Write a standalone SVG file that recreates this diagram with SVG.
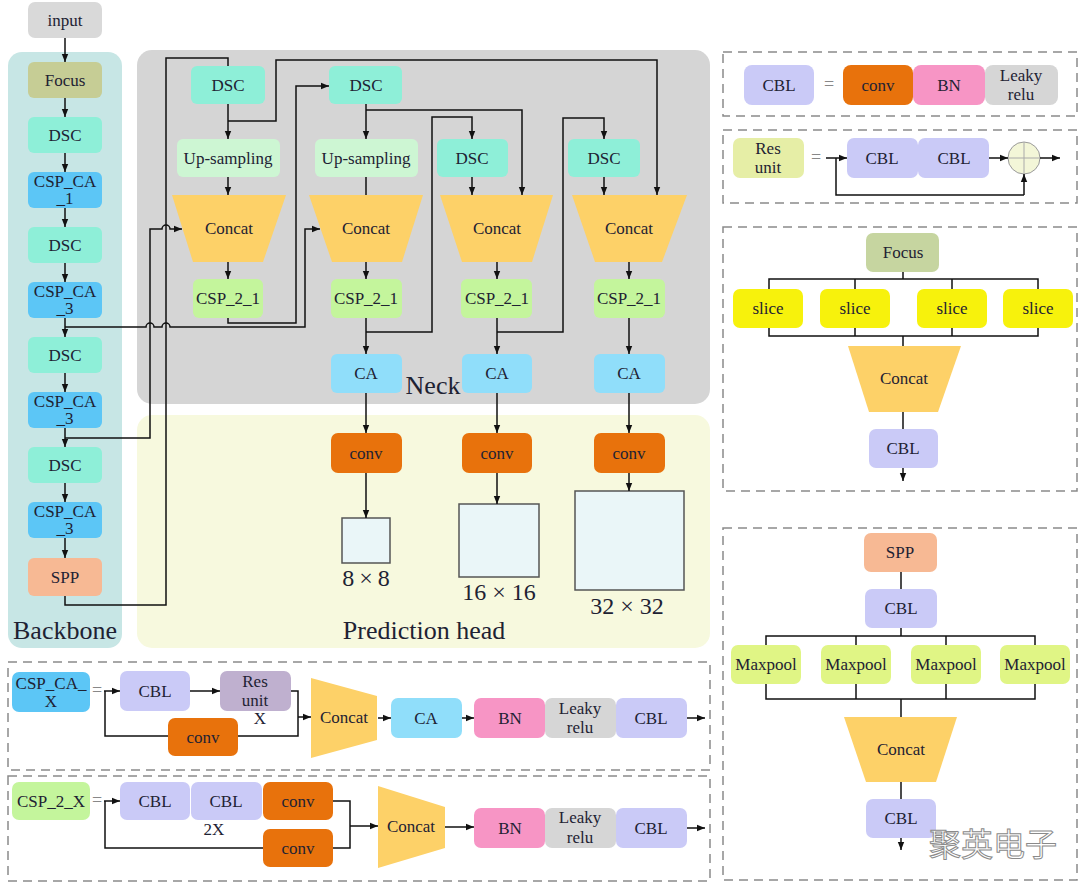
<svg xmlns="http://www.w3.org/2000/svg" width="1080" height="883" viewBox="0 0 1080 883" font-family="Liberation Serif, serif">
<defs>
<marker id="ah" viewBox="0 0 10 10" refX="10" refY="5" markerWidth="8" markerHeight="8" markerUnits="userSpaceOnUse" orient="auto"><path d="M0,1 L10,5 L0,9 z" fill="#111"/></marker>
<style>
text{font-family:'Liberation Serif',serif;font-size:17px;fill:#1e2233;text-anchor:middle;dominant-baseline:central}
.w{stroke:#111;stroke-width:1.5;fill:none}
.a{marker-end:url(#ah)}
.dash{fill:none;stroke:#8a8a8a;stroke-width:1.5;stroke-dasharray:9 6}
.dsc{fill:#8eefd8}
.csp{fill:#5cc6f6}
.foc{fill:#c6cd95}
.up{fill:#cdf6d3}
.cat{fill:#fdd168}
.c21{fill:#c4f59c}
.ca{fill:#90defa}
.conv{fill:#e8720c}
.spp{fill:#f7b994}
.cbl{fill:#cacaf7}
.bn{fill:#f795c5}
.lr{fill:#d6d6d6}
.res{fill:#bfb0cf}
.slice{fill:#f7f20c}
.mp{fill:#e0f585}
.pb{fill:#eaf6f8;stroke:#555;stroke-width:1.5}
.eq{fill:#888;font-size:18px}
.big{font-size:26px}
.mid{font-size:24px}
.wm{font-family:'Noto Sans CJK SC',sans-serif;font-size:32px;fill:#ffffff;stroke:#8a8a8a;stroke-width:1}
</style>
</defs>

<!-- panels -->
<g id="panels">
<rect x="8" y="52" width="114" height="596" rx="14" fill="#c7e6e5"/>
<rect x="137" y="50" width="573" height="354" rx="15" fill="#d5d5d5"/>
<rect x="137" y="415" width="573" height="233" rx="15" fill="#f7f9de"/>
<text class="big" x="65" y="630">Backbone</text>
<text class="big" x="433" y="385">Neck</text>
<text class="big" x="424" y="630">Prediction head</text>
<rect class="dash" x="723" y="52" width="354" height="64"/>
<rect class="dash" x="723" y="130" width="354" height="73"/>
<rect class="dash" x="723" y="227" width="354" height="264"/>
<rect class="dash" x="723" y="528" width="354" height="352"/>
<rect class="dash" x="8" y="662" width="702" height="108"/>
<rect class="dash" x="8" y="776" width="702" height="105"/>
</g>

<!-- backbone -->
<g id="input"><rect x="28" y="2" width="74" height="36" rx="7" fill="#d9d9d9"/><text x="65" y="20">input</text></g>
<g id="bb_focus"><rect class="foc" x="28" y="62" width="74" height="36" rx="6"/><text x="65" y="80">Focus</text></g>
<g id="bb_dsc1"><rect class="dsc" x="28" y="117" width="74" height="36" rx="6"/><text x="65" y="135">DSC</text></g>
<g id="bb_csp1"><rect class="csp" x="28" y="172" width="74" height="36" rx="6"/><text x="65" y="181">CSP_CA</text><text x="65" y="198">_1</text></g>
<g id="bb_dsc2"><rect class="dsc" x="28" y="227" width="74" height="36" rx="6"/><text x="65" y="245">DSC</text></g>
<g id="bb_csp2"><rect class="csp" x="28" y="282" width="74" height="36" rx="6"/><text x="65" y="291">CSP_CA</text><text x="65" y="308">_3</text></g>
<g id="bb_dsc3"><rect class="dsc" x="28" y="337" width="74" height="36" rx="6"/><text x="65" y="355">DSC</text></g>
<g id="bb_csp3"><rect class="csp" x="28" y="392" width="74" height="36" rx="6"/><text x="65" y="401">CSP_CA</text><text x="65" y="418">_3</text></g>
<g id="bb_dsc4"><rect class="dsc" x="28" y="447" width="74" height="36" rx="6"/><text x="65" y="465">DSC</text></g>
<g id="bb_csp4"><rect class="csp" x="28" y="502" width="74" height="36" rx="6"/><text x="65" y="511">CSP_CA</text><text x="65" y="528">_3</text></g>
<g id="bb_spp"><rect class="spp" x="28" y="558" width="74" height="38" rx="6"/><text x="65" y="577">SPP</text></g>

<!-- neck -->
<g id="n_dsc1"><rect class="dsc" x="191" y="66" width="74" height="38" rx="6"/><text x="228" y="85">DSC</text></g>
<g id="n_dsc2"><rect class="dsc" x="329" y="66" width="73" height="38" rx="6"/><text x="366" y="85">DSC</text></g>
<g id="n_up1"><rect class="up" x="177" y="139" width="103" height="38" rx="6"/><text x="228" y="158">Up-sampling</text></g>
<g id="n_up2"><rect class="up" x="315" y="139" width="103" height="38" rx="6"/><text x="366" y="158">Up-sampling</text></g>
<g id="n_dsc3"><rect class="dsc" x="437" y="139" width="71" height="38" rx="6"/><text x="472" y="158">DSC</text></g>
<g id="n_dsc4"><rect class="dsc" x="568" y="139" width="72" height="38" rx="6"/><text x="604" y="158">DSC</text></g>
<g id="n_cat1"><polygon class="cat" points="172,195 286,195 263,262 193,262"/><text x="229" y="228">Concat</text></g>
<g id="n_cat2"><polygon class="cat" points="309,195 423,195 402,262 332,262"/><text x="366" y="228">Concat</text></g>
<g id="n_cat3"><polygon class="cat" points="440,195 553,195 532,262 462,262"/><text x="497" y="228">Concat</text></g>
<g id="n_cat4"><polygon class="cat" points="572,195 687,195 662,262 595,262"/><text x="629" y="228">Concat</text></g>
<g id="n_csp1"><rect class="c21" x="193" y="279" width="70" height="39" rx="6"/><text x="228" y="298">CSP_2_1</text></g>
<g id="n_csp2"><rect class="c21" x="331" y="279" width="71" height="39" rx="6"/><text x="366" y="298">CSP_2_1</text></g>
<g id="n_csp3"><rect class="c21" x="461" y="279" width="71" height="39" rx="6"/><text x="497" y="298">CSP_2_1</text></g>
<g id="n_csp4"><rect class="c21" x="594" y="279" width="71" height="39" rx="6"/><text x="629" y="298">CSP_2_1</text></g>
<g id="n_ca2"><rect class="ca" x="331" y="354" width="71" height="39" rx="6"/><text x="366" y="373">CA</text></g>
<g id="n_ca3"><rect class="ca" x="462" y="354" width="70" height="39" rx="6"/><text x="497" y="373">CA</text></g>
<g id="n_ca4"><rect class="ca" x="594" y="354" width="71" height="39" rx="6"/><text x="629" y="373">CA</text></g>

<!-- prediction head -->
<g id="p_conv2"><rect class="conv" x="331" y="433" width="71" height="40" rx="7"/><text x="366" y="453">conv</text></g>
<g id="p_conv3"><rect class="conv" x="462" y="433" width="70" height="40" rx="7"/><text x="497" y="453">conv</text></g>
<g id="p_conv4"><rect class="conv" x="594" y="433" width="71" height="40" rx="7"/><text x="629" y="453">conv</text></g>
<g id="p_out8"><rect class="pb" x="342" y="518" width="48" height="45"/><text class="mid" x="366" y="578">8<tspan dx="5">×</tspan><tspan dx="5">8</tspan></text></g>
<g id="p_out16"><rect class="pb" x="459" y="504" width="80" height="73"/><text class="mid" x="499" y="592">16<tspan dx="6">×</tspan><tspan dx="6">16</tspan></text></g>
<g id="p_out32"><rect class="pb" x="575" y="491" width="109" height="99"/><text class="mid" x="627" y="606">32<tspan dx="6">×</tspan><tspan dx="6">32</tspan></text></g>

<!-- connectors -->
<g id="connectors">
<path class="w a" d="M65,38 V62"/>
<path class="w a" d="M65,98 V117"/>
<path class="w a" d="M65,153 V172"/>
<path class="w a" d="M65,208 V227"/>
<path class="w a" d="M65,263 V282"/>
<path class="w a" d="M65,318 V337"/>
<path class="w a" d="M65,373 V392"/>
<path class="w a" d="M65,428 V447"/>
<path class="w a" d="M65,483 V502"/>
<path class="w a" d="M65,538 V558"/>
<path class="w" d="M65,596 V605 H166 V58 H228 V66"/>
<path class="w a" d="M65,438 H150 V229 H162 a4,4 0 0 1 8,0 H182"/>
<path class="w a" d="M65,327 H146 a4,4 0 0 1 8,0 H162 a4,4 0 0 1 8,0 H305 V229 H320"/>
<path class="w a" d="M228,104 V139"/>
<path class="w a" d="M228,177 V195"/>
<path class="w a" d="M228,262 V279"/>
<path class="w a" d="M228,121 H276 V60 H657 V195"/>
<path class="w a" d="M228,318 V323 H296 V86 H329"/>
<path class="w a" d="M366,104 V139"/>
<path class="w a" d="M366,110 H522 V195"/>
<path class="w" d="M366,177 V195"/>
<path class="w a" d="M366,262 V279"/>
<path class="w a" d="M366,318 V354"/>
<path class="w a" d="M366,332 H432 V117 H472 V139"/>
<path class="w a" d="M472,177 V195"/>
<path class="w a" d="M497,262 V279"/>
<path class="w a" d="M497,318 V354"/>
<path class="w a" d="M497,332 H563 V118 H604 V139"/>
<path class="w a" d="M604,177 V195"/>
<path class="w a" d="M629,262 V279"/>
<path class="w a" d="M629,318 V354"/>
<path class="w a" d="M366,393 V433"/>
<path class="w a" d="M366,473 V518"/>
<path class="w a" d="M497,393 V433"/>
<path class="w a" d="M497,473 V504"/>
<path class="w a" d="M629,393 V433"/>
<path class="w a" d="M629,473 V491"/>
</g>

<!-- bottom panel 1: CSP_CA_X -->
<g id="csp_ca_x"><rect class="csp" x="12" y="672" width="78" height="40" rx="7"/><text x="51" y="683">CSP_CA_</text><text x="51" y="701">X</text></g>
<text class="eq" x="97" y="690">=</text>
<g id="b1_cbl"><rect class="cbl" x="120" y="671" width="70" height="40" rx="7"/><text x="155" y="691">CBL</text></g>
<g id="b1_res"><rect class="res" x="220" y="671" width="71" height="40" rx="7"/><text x="255" y="681">Res</text><text x="255" y="700">unit</text></g>
<text x="260" y="718">X</text>
<g id="b1_conv"><rect class="conv" x="168" y="718" width="70" height="38" rx="7"/><text x="203" y="737">conv</text></g>
<g id="b1_concat"><polygon class="cat" points="311,678 377,696 377,740 311,758"/><text x="344" y="717">Concat</text></g>
<g id="b1_ca"><rect class="ca" x="391" y="698" width="71" height="40" rx="7"/><text x="426" y="718">CA</text></g>
<g id="b1_bn"><rect class="bn" x="474" y="698" width="71" height="40" rx="7"/><text x="510" y="718">BN</text></g>
<g id="b1_lr"><rect class="lr" x="545" y="698" width="71" height="40" rx="7"/><text x="580" y="708">Leaky</text><text x="580" y="727">relu</text></g>
<g id="b1_cbl2"><rect class="cbl" x="616" y="698" width="71" height="40" rx="7"/><text x="651" y="718">CBL</text></g>
<g id="b1_conn">
<path class="w a" d="M104,691 H120"/>
<path class="w" d="M105,691 V736 H168"/>
<path class="w a" d="M190,691 H220"/>
<path class="w" d="M291,691 H298 V717"/>
<path class="w" d="M238,736 H298 V717"/>
<path class="w a" d="M298,717 H311"/>
<path class="w a" d="M378,718 H391"/>
<path class="w a" d="M462,718 H474"/>
<path class="w a" d="M687,718 H705"/>
</g>

<!-- bottom panel 2: CSP_2_X -->
<g id="csp_2_x"><rect class="c21" x="12" y="782" width="78" height="38" rx="7"/><text x="51" y="801">CSP_2_X</text></g>
<text class="eq" x="97" y="800">=</text>
<g id="b2_cbl1"><rect class="cbl" x="120" y="782" width="70" height="38" rx="7"/><text x="155" y="801">CBL</text></g>
<g id="b2_cbl2"><rect class="cbl" x="191" y="782" width="71" height="38" rx="7"/><text x="226" y="801">CBL</text></g>
<text x="214" y="829">2X</text>
<g id="b2_conv1"><rect class="conv" x="263" y="782" width="70" height="38" rx="7"/><text x="298" y="801">conv</text></g>
<g id="b2_conv2"><rect class="conv" x="263" y="829" width="70" height="38" rx="7"/><text x="298" y="848">conv</text></g>
<g id="b2_concat"><polygon class="cat" points="378,786 445,807 445,848 378,868"/><text x="411" y="826">Concat</text></g>
<g id="b2_bn"><rect class="bn" x="474" y="808" width="71" height="40" rx="7"/><text x="510" y="828">BN</text></g>
<g id="b2_lr"><rect class="lr" x="545" y="808" width="71" height="40" rx="7"/><text x="580" y="817">Leaky</text><text x="580" y="837">relu</text></g>
<g id="b2_cbl3"><rect class="cbl" x="616" y="808" width="71" height="40" rx="7"/><text x="651" y="828">CBL</text></g>
<g id="b2_conn">
<path class="w a" d="M104,801 H120"/>
<path class="w" d="M105,801 V848 H263"/>
<path class="w" d="M333,801 H350 V848 H333"/>
<path class="w a" d="M350,826 H378"/>
<path class="w a" d="M445,827 H474"/>
<path class="w a" d="M687,828 H705"/>
</g>

<!-- right panel 1: CBL definition -->
<g id="r1_cbl"><rect class="cbl" x="744" y="65" width="70" height="40" rx="8"/><text x="779" y="85">CBL</text></g>
<text class="eq" x="829" y="84">=</text>
<g id="r1_conv"><rect class="conv" x="843" y="65" width="70" height="40" rx="8"/><text x="878" y="85">conv</text></g>
<g id="r1_bn"><rect class="bn" x="913" y="65" width="72" height="40" rx="8"/><text x="949" y="85">BN</text></g>
<g id="r1_lr"><rect class="lr" x="985" y="65" width="73" height="40" rx="8"/><text x="1021" y="75">Leaky</text><text x="1021" y="94">relu</text></g>

<!-- right panel 2: Res unit -->
<g id="r2_res"><rect x="733" y="138" width="71" height="40" rx="7" fill="#e6eea6"/><text x="768" y="148">Res</text><text x="768" y="167">unit</text></g>
<text class="eq" x="816" y="157">=</text>
<g id="r2_cbl1"><rect class="cbl" x="847" y="138" width="71" height="40" rx="7"/><text x="882" y="158">CBL</text></g>
<g id="r2_cbl2"><rect class="cbl" x="918" y="138" width="71" height="40" rx="7"/><text x="954" y="158">CBL</text></g>
<g id="r2_add"><circle cx="1024" cy="158" r="16" fill="#f3f6d8" stroke="#9a9a9a" stroke-width="1"/><path d="M1008,158 H1040 M1024,142 V174" stroke="#aaa" stroke-width="1"/></g>
<g id="r2_conn">
<path class="w a" d="M826,158 H847"/>
<path class="w" d="M836,158 V195 H1024"/>
<path class="w a" d="M1024,195 V174"/>
<path class="w a" d="M989,158 H1008"/>
<path class="w a" d="M1040,158 H1060"/>
</g>

<!-- right panel 3: Focus -->
<g id="r3_focus"><rect x="866" y="233" width="73" height="39" rx="7" fill="#c6d5a0"/><text x="903" y="252">Focus</text></g>
<g id="r3_s1"><rect class="slice" x="733" y="289" width="70" height="39" rx="7"/><text x="768" y="308">slice</text></g>
<g id="r3_s2"><rect class="slice" x="820" y="289" width="70" height="39" rx="7"/><text x="855" y="308">slice</text></g>
<g id="r3_s3"><rect class="slice" x="917" y="289" width="70" height="39" rx="7"/><text x="952" y="308">slice</text></g>
<g id="r3_s4"><rect class="slice" x="1003" y="289" width="70" height="39" rx="7"/><text x="1038" y="308">slice</text></g>
<g id="r3_concat"><polygon class="cat" points="848,346 961,346 938,412 869,412"/><text x="904" y="378">Concat</text></g>
<g id="r3_cbl"><rect class="cbl" x="869" y="429" width="69" height="39" rx="7"/><text x="903" y="448">CBL</text></g>
<g id="r3_conn">
<path class="w" d="M903,272 V279 M769,289 V279 H1038 V289 M855,279 V289 M952,279 V289"/>
<path class="w" d="M769,328 V336 H1038 V328 M855,328 V336 M952,328 V336 M903,336 V346"/>
<path class="w" d="M903,412 V429"/>
<path class="w a" d="M903,468 V481"/>
</g>

<!-- right panel 4: SPP -->
<g id="r4_spp"><rect class="spp" x="864" y="533" width="73" height="39" rx="7"/><text x="900" y="552">SPP</text></g>
<g id="r4_cbl1"><rect class="cbl" x="865" y="589" width="72" height="39" rx="7"/><text x="901" y="608">CBL</text></g>
<g id="r4_m1"><rect class="mp" x="731" y="645" width="70" height="39" rx="7"/><text x="766" y="664">Maxpool</text></g>
<g id="r4_m2"><rect class="mp" x="821" y="645" width="70" height="39" rx="7"/><text x="856" y="664">Maxpool</text></g>
<g id="r4_m3"><rect class="mp" x="911" y="645" width="70" height="39" rx="7"/><text x="946" y="664">Maxpool</text></g>
<g id="r4_m4"><rect class="mp" x="1000" y="645" width="70" height="39" rx="7"/><text x="1035" y="664">Maxpool</text></g>
<g id="r4_concat"><polygon class="cat" points="844,717 957,717 936,782 866,782"/><text x="901" y="749">Concat</text></g>
<g id="r4_cbl2"><rect class="cbl" x="866" y="799" width="70" height="39" rx="7"/><text x="901" y="818">CBL</text></g>
<g id="r4_conn">
<path class="w" d="M901,572 V589"/>
<path class="w" d="M901,628 V636 M766,645 V636 H1035 V645 M856,636 V645 M946,636 V645"/>
<path class="w" d="M766,684 V699 H1035 V684 M856,684 V699 M946,684 V699 M901,699 V717"/>
<path class="w" d="M901,782 V799"/>
<path class="w a" d="M901,838 V850"/>
</g>

<text class="wm" x="993" y="842">聚英电子</text>
</svg>
